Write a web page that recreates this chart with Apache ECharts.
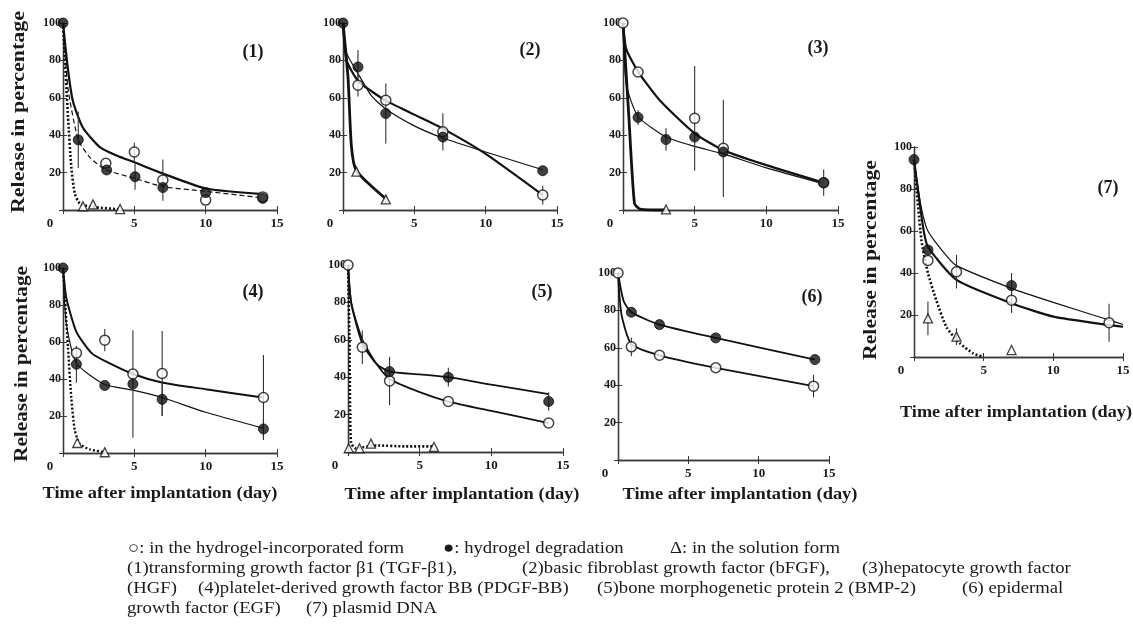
<!DOCTYPE html>
<html><head><meta charset="utf-8">
<script src="https://cdn.jsdelivr.net/npm/echarts/dist/echarts.min.js"></script>
<style>html,body{margin:0;padding:0;background:#fff}#c{width:1133px;height:632px}</style>
</head><body><div id="c"></div>
<script>
// ---- DATA: points are [day, percent, errorHalfWidth]; curves are [day, percent] ----
const xTicks = [0, 5, 10, 15];
const yTicks = [20, 40, 60, 80, 100];
const panelLabels = ['(1)', '(2)', '(3)', '(4)', '(5)', '(6)', '(7)'];

const p1Open = [[3,25,0],[5,31,5],[7,16,11],[10,5.3,0],[14,7,0]];
const p1Filled = [[0,100,0],[1.07,37.5,15],[3.06,21.4,0],[5.05,17.8,7],[7,12,0],[10,9.3,0],[14,6.2,0]];
const p1Sol = [[1.4,2,0],[2.1,3,0],[4,0.5,0]];
const p1CurveOpen = [[0,100],[0.35,75],[0.7,58],[1.4,44],[2.6,33.5],[3.8,29],[5,25.5],[7,19.5],[10,11.5],[14,8.5]];
const p1CurveFilled = [[0,100],[0.35,65],[1.07,37.5],[1.9,28],[3,21.5],[5,17],[7,12.5],[10,10],[14,6.5]];
const p1CurveSol = [[0,100],[0.35,50],[0.58,23],[0.82,9],[1.17,3.5],[1.87,1.8],[3.9,0.4]];

const p2Open = [[1.05,66.7,6],[3,58.7,0],[7,41.8,10],[14,8,5]];
const p2Filled = [[0,100,0],[1.05,76.5,9],[3,51.6,16],[7,39,0],[14,21,0]];
const p2Sol = [[0.94,20.5,0],[3,5.7,2]];
const p2CurveOpen = [[0,100],[0.25,80],[1.05,69],[2,63.5],[3,58.5],[5,51],[7,43.5],[10,30],[14,8]];
const p2CurveFilled = [[0,100],[0.25,84],[1.05,73],[2,61],[3,54],[5,45],[7,38.5],[10,31],[14,21.5]];
const p2CurveSol = [[0,100],[0.35,71],[0.59,34],[0.94,21],[3,6]];

const p3Open = [[0,100,0],[1.05,73.8,0],[5,49,28],[7,33,26],[14,14.6,0]];
const p3Filled = [[1.05,49.5,4],[3,37.7,6],[5,39,0],[7,31,0],[14,14.6,7]];
const p3Sol = [[3,0.3,0]];
const p3CurveOpen = [[0,100],[0.23,86],[1.05,74],[2.56,58.7],[5,41],[7,32],[10,24],[14,14.6]];
const p3CurveFilled = [[0,100],[0.23,67],[1.05,50],[3,39],[5,34],[7,30],[10,22.5],[14,14]];
const p3CurveSol = [[0,100],[0.4,51],[0.8,3.5],[1.2,0.5],[3,0]];

const p4Open = [[0.94,54,0],[2.93,61,6],[4.9,42.7,0],[6.95,43,23],[14.05,30,23]];
const p4Filled = [[0,100,0],[0.94,48,10],[2.93,36.5,0],[4.9,37.3,29],[6.95,29,9],[14.05,13,5]];
const p4Sol = [[1.0,5.4,0],[2.93,0.4,0]];
const p4CurveOpen = [[0,100],[0.23,84],[0.94,65.5],[2,54],[3,49.5],[4.9,42.7],[7,38],[10,34.5],[14,30]];
const p4CurveFilled = [[0,100],[0.23,70],[0.94,48.5],[2.93,37],[4.9,34],[6.95,30],[10,22],[14,13.5]];
const p4CurveSol = [[0,100],[0.35,57],[0.58,30],[0.82,12.5],[1.17,5],[1.87,2],[2.9,0.4]];

const p5Open = [[0,100,0],[1.0,56,9],[2.9,38,13],[7,27,0],[14,15.5,0]];
const p5Filled = [[2.9,43,0],[7,40,5],[14,27,5]];
const p5Sol = [[0.05,2,0],[0.8,2,0],[1.6,4.5,0],[6,2.7,0]];
const p5CurveOpen = [[0,100],[0.23,79.5],[1.0,60],[2,47],[2.9,39],[5,32],[7,27],[10,22],[14,15.5]];
const p5CurveFilled = [[0,100],[0.23,79.5],[1.0,58],[2,47],[2.9,43],[5,41.5],[7,40],[10,36],[14,31]];
const p5CurveSol = [[0,100],[0.1,60],[0.15,20],[0.22,5],[0.5,2],[1,2.5],[2,3.5],[4,3],[6,3]];

const p6Open = [[0,100,0],[0.95,60.5,5],[2.95,56,0],[6.95,49.3,0],[13.9,39.5,6]];
const p6Filled = [[0.95,79,0],[2.95,72.4,0],[6.95,65.3,0],[14,53.7,0]];
const p6Sol = [];
const p6CurveOpen = [[0,100],[0.1,88],[0.28,76.5],[0.95,62],[2.95,56],[6.95,49.3],[13.9,39.5]];
const p6CurveFilled = [[0,100],[0.4,85],[0.95,79],[2.95,72.4],[6.95,65.3],[14,53.7]];
const p6CurveSol = [];

const p7Open = [[1.0,46,0],[3.05,40.6,8],[7,27,6],[14,16.3,9]];
const p7Filled = [[0,94,0],[1.0,51,0],[7,34,6]];
const p7Sol = [[1.0,18.4,8],[3.05,9.7,4],[7,3.3,0]];
const p7CurveOpen = [[0,94],[0.65,62],[1.0,52.5],[3.05,36.7],[7,25.6],[10,19.2],[14,15.2],[15,14.4]];
const p7CurveFilled = [[0,94],[0.5,72],[1.0,60],[2.35,48],[3.05,43.5],[7,32.7],[10,26],[14,17.6],[15,15.5]];
const p7CurveSol = [[0,94],[0.53,55.7],[1.0,40],[1.6,27],[2.35,14],[3.3,6.5],[4.25,1.7],[5,0]];

const legendLine1 = ['○: in the hydrogel-incorporated form', '●: hydrogel degradation', 'Δ: in the solution form'];
const legendLine2 = ['(1)transforming growth factor β1 (TGF-β1),', '(2)basic fibroblast growth factor (bFGF),', '(3)hepatocyte growth factor'];
const legendLine3 = ['(HGF)', '(4)platelet-derived growth factor BB (PDGF-BB)', '(5)bone morphogenetic protein 2 (BMP-2)', '(6) epidermal'];
const legendLine4 = ['growth factor (EGF)', '(7) plasmid DNA'];
const yTitle = 'Release in percentage';
const xTitle = 'Time after implantation (day)';

// ---- LAYOUT / STYLE ----
const SERIF = '"Liberation Serif", "DejaVu Serif", serif';
const INK = '#1a1a1a';
const panels = [
  {open:p1Open, filled:p1Filled, sol:p1Sol, cO:p1CurveOpen, cF:p1CurveFilled, cS:p1CurveSol,
   grid:[63,23,214,187], wO:2.2, wF:1.2, tF:[5,3], wS:2.6, tS:[2,2], lab:[253,52]},
  {open:p2Open, filled:p2Filled, sol:p2Sol, cO:p2CurveOpen, cF:p2CurveFilled, cS:p2CurveSol,
   grid:[343,23,214,187], wO:2.2, wF:1.2, tF:'solid', wS:2.8, tS:'solid', lab:[530,50]},
  {open:p3Open, filled:p3Filled, sol:p3Sol, cO:p3CurveOpen, cF:p3CurveFilled, cS:p3CurveSol,
   grid:[623,23,215,187], wO:2.2, wF:1.2, tF:'solid', wS:2.8, tS:'solid', lab:[818,48]},
  {open:p4Open, filled:p4Filled, sol:p4Sol, cO:p4CurveOpen, cF:p4CurveFilled, cS:p4CurveSol,
   grid:[63,268,214,185], wO:2.0, wF:1.2, tF:'solid', wS:2.4, tS:[2,2], lab:[253,292]},
  {open:p5Open, filled:p5Filled, sol:p5Sol, cO:p5CurveOpen, cF:p5CurveFilled, cS:p5CurveSol,
   grid:[348,265,215,187], wO:1.8, wF:1.8, tF:'solid', wS:2.6, tS:[2,2], lab:[542,292]},
  {open:p6Open, filled:p6Filled, sol:p6Sol, cO:p6CurveOpen, cF:p6CurveFilled, cS:p6CurveSol,
   grid:[618,273,211,187], wO:1.8, wF:1.8, tF:'solid', wS:2.4, tS:[2,2], lab:[812,297]},
  {open:p7Open, filled:p7Filled, sol:p7Sol, cO:p7CurveOpen, cF:p7CurveFilled, cS:p7CurveSol,
   grid:[914,147,209,210], wO:2.2, wF:1.2, tF:'solid', wS:2.6, tS:[2,2], lab:[1108,188]}
];

const grids = [], xAxes = [], yAxes = [], series = [];
const axLine = {show:true, lineStyle:{color:'#3a3a3a', width:1.3}};
const tick = {show:true, inside:true, length:4, lineStyle:{color:'#3a3a3a', width:1}};
const tickFont = {color:INK, fontFamily:SERIF, fontSize:13, fontWeight:'bold'};

panels.forEach((p, i) => {
  const [l, t, w, h] = p.grid;
  grids.push({left:l, top:t, width:w, height:h, show:false, containLabel:false, outerBoundsMode:'none'});
  const xi = xAxes.length, yi = yAxes.length;
  xAxes.push({gridIndex:i, type:'value', position:'bottom', min:0, max:15, interval:5,
    axisLine:axLine, axisTick:tick, splitLine:{show:false},
    axisLabel:Object.assign({show:true, margin:7,
      formatter: v => v === xTicks[0] ? '{z|' + v + '}' : String(v),
      rich:{z:Object.assign({padding:[0,26,0,0]}, tickFont)}}, tickFont)});
  xAxes.push({gridIndex:i, type:'value', position:'top', min:0, max:15, interval:5,
    axisLine:axLine, axisTick:tick, axisLabel:{show:false}, splitLine:{show:false}});
  yAxes.push({gridIndex:i, type:'value', position:'left', min:0, max:100, interval:20,
    axisLine:axLine, axisTick:tick, splitLine:{show:false},
    axisLabel:Object.assign({show:true, margin:2,
      formatter: v => yTicks.includes(v) ? String(v) : ''}, tickFont, {fontSize:12})});
  yAxes.push({gridIndex:i, type:'value', position:'right', min:0, max:100, interval:20,
    axisLine:axLine, axisTick:tick, axisLabel:{show:false}, splitLine:{show:false}});

  const base = {xAxisIndex:xi, yAxisIndex:yi};
  const curve = (data, width, type, z) => Object.assign({type:'line', data, smooth:0.2,
    showSymbol:false, symbol:'none', silent:true, clip:false, z,
    lineStyle:{color:'#111', width, type}}, base);
  if (p.cS.length) series.push(curve(p.cS, p.wS, p.tS, 2));
  series.push(curve(p.cF, p.wF, p.tF, 2));
  series.push(curve(p.cO, p.wO, 'solid', 2));

  const err = [].concat(p.open, p.filled, p.sol).filter(d => d[2] > 0).map(d => [d[0], d[1] - d[2], d[1] + d[2]]);
  series.push(Object.assign({type:'custom', data:err, z:3, silent:true, clip:false,
    encode:{x:0, y:[1,2]},
    renderItem:(params, api) => {
      const a = api.coord([api.value(0), api.value(1)]);
      const b = api.coord([api.value(0), api.value(2)]);
      return {type:'line', shape:{x1:a[0], y1:a[1], x2:b[0], y2:b[1]}, style:{stroke:'#333', lineWidth:1.1}};
    }}, base));

  const pts = arr => arr.map(d => [d[0], d[1]]);
  series.push(Object.assign({type:'scatter', data:pts(p.sol), symbol:'triangle', symbolSize:9, z:5, clip:false,
    itemStyle:{color:'#fff', borderColor:'#111', borderWidth:1.3}}, base));
  series.push(Object.assign({type:'scatter', data:pts(p.open), symbol:'circle', symbolSize:10, z:5, clip:false,
    itemStyle:{color:'#fff', borderColor:'#111', borderWidth:1.5}}, base));
  series.push(Object.assign({type:'scatter', data:pts(p.filled), symbol:'circle', symbolSize:10, z:6, clip:false,
    itemStyle:{color:'#111', borderColor:'#111', borderWidth:1}}, base));
});

// ---- TEXT ----
const mctx = document.createElement('canvas').getContext('2d');
const measure = (s, font) => { mctx.font = font; return mctx.measureText(s).width; };
const graphic = [];
// fit: desired rendered length in px; sx: fixed horizontal stretch
const txt = (x, y, s, font, align, rot, fit, sx) => {
  const scale = fit ? fit / measure(s, font) : (sx || 1);
  graphic.push({type:'text', x, y, rotation:rot || 0, scaleX:scale, silent:true,
    style:{text:s, font, fill:INK, textAlign:align || 'center', textVerticalAlign:'middle', verticalAlign:'middle'}});
};

const yTitleFont = 'bold 19px ' + SERIF;
const xTitleFont = 'bold 17px ' + SERIF;
txt(19, 112, yTitle, yTitleFont, 'center', Math.PI / 2, 202);
txt(22, 364, yTitle, yTitleFont, 'center', Math.PI / 2, 196);
txt(871, 260, yTitle, yTitleFont, 'center', Math.PI / 2, 200);
txt(160, 494, xTitle, xTitleFont, 'center', 0, 235);
txt(462, 495, xTitle, xTitleFont, 'center', 0, 235);
txt(740, 495, xTitle, xTitleFont, 'center', 0, 235);
txt(1016, 413, xTitle, xTitleFont, 'center', 0, 232);
panels.forEach((p, i) => txt(p.lab[0], p.lab[1], panelLabels[i], 'bold 18px ' + SERIF));

// legend segments: left x positions, uniform stretch
const legFont = '17px ' + SERIF;
const LS = 1.1;
const L1 = [128, 443, 670], L2 = [127, 522, 862], L3 = [127, 198, 597, 962], L4 = [127, 306];
[[legendLine1, L1, 549], [legendLine2, L2, 569], [legendLine3, L3, 589], [legendLine4, L4, 609]]
  .forEach(([line, pos, y]) => line.forEach((s, k) => txt(pos[k], y, s, legFont, 'left', 0, 0, LS)));

const chart = echarts.init(document.getElementById('c'), null, {renderer:'canvas'});
chart.setOption({backgroundColor:'#fff', animation:false, grid:grids, xAxis:xAxes, yAxis:yAxes, series, graphic});
</script></body></html>
